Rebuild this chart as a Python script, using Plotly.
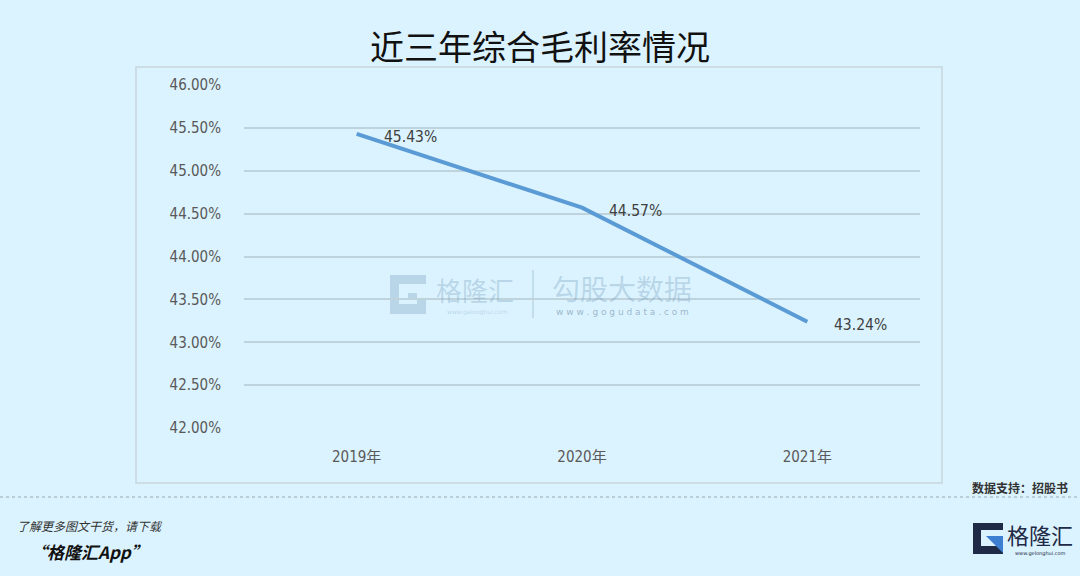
import plotly.graph_objects as go

years = ["2019年", "2020年", "2021年"]
margin_rate = [45.43, 44.57, 43.24]
label_text = ["45.43%", "44.57%", "43.24%"]
y_ticks = [42.0, 42.5, 43.0, 43.5, 44.0, 44.5, 45.0, 45.5, 46.0]
y_tick_text = ["42.00%", "42.50%", "43.00%", "43.50%", "44.00%", "44.50%", "45.00%", "45.50%", "46.00%"]

BG = "#DBF3FE"
W, H = 1080, 576
L, R, T, B = 244, 920, 85, 428  # plot area in pixels

def px(x):
    return (x - L) / (R - L)

def py(y):
    return (B - y) / (B - T)

NUM_FONT = "DejaVu Sans Condensed, Liberation Sans Narrow, Noto Sans CJK SC, sans-serif"
CJK = "Noto Sans CJK SC, sans-serif"

fig = go.Figure()
fig.add_trace(go.Scatter(
    x=years, y=margin_rate, mode="lines",
    line=dict(color="#5B9BD5", width=4),
    hoverinfo="skip",
))

shapes = []
annotations = []

# data labels
for xv, yv, t in zip(years, margin_rate, label_text):
    annotations.append(dict(text=t, x=xv, y=yv, xref="x", yref="y",
                            xanchor="left", yanchor="middle", xshift=25, yshift=-3,
                            font=dict(family=NUM_FONT, size=15.5, color="#404040")))

# outer chart border
shapes.append(dict(type="rect", xref="paper", yref="paper",
                   x0=px(136), x1=px(942), y0=py(67), y1=py(483),
                   line=dict(color="#C8D6DD", width=1.5), layer="below"))
# dotted separator
shapes.append(dict(type="line", xref="paper", yref="paper",
                   x0=px(0), x1=px(1080), y0=py(497), y1=py(497),
                   line=dict(color="#9AA6AC", width=1, dash="dot")))

# watermark
WM = "rgba(120,160,190,0.35)"
shapes.append(dict(type="path", xref="paper", yref="paper",
                   path=("M {a},{b} L {c},{b} L {c},{d} L {e},{d} L {e},{f} L {g},{f} L {g},{h} L {k},{h} "
                         "L {k},{j} L {c},{j} L {c},{i} L {a},{i} Z").format(
                       a=px(390), c=px(426), e=px(399), g=px(417), k=px(408),
                       b=py(275), d=py(284), f=py(304), h=py(293), j=py(300), i=py(314)),
                   fillcolor=WM, line=dict(width=0), layer="below"))
shapes.append(dict(type="line", xref="paper", yref="paper",
                   x0=px(533), x1=px(533), y0=py(270), y1=py(318),
                   line=dict(color=WM, width=1.5), layer="below"))
annotations += [
    dict(text="格隆汇", x=px(475), y=py(289), font=dict(family=CJK, size=26, color=WM)),
    dict(text="www.gelonghui.com", x=px(477), y=py(312), font=dict(family="DejaVu Sans", size=6, color=WM)),
    dict(text="勾股大数据", x=px(622), y=py(288), font=dict(family=CJK, size=28, color=WM)),
    dict(text="w w w . g o g u d a t a . c o m", x=px(622), y=py(312), font=dict(family="DejaVu Sans", size=9, color="rgba(100,130,160,0.55)")),
]

# title
annotations.append(dict(text="近三年综合毛利率情况", x=px(540), y=py(46),
                        font=dict(family=CJK, size=34, color="#111111")))
# source
annotations.append(dict(text="<b>数据支持：招股书</b>", x=px(1070), y=py(488), xanchor="right",
                        font=dict(family=CJK, size=12, color="#333333")))
# footer left
annotations.append(dict(text="<i>了解更多图文干货，请下载</i>", x=px(15), y=py(525), xanchor="left",
                        font=dict(family=CJK, size=12, color="#333333")))
annotations.append(dict(text="<b><i>“格隆汇App”</i></b>", x=px(28), y=py(551), xanchor="left",
                        font=dict(family=CJK, size=17, color="#111111")))

# footer logo
NAVY = "#1E2A46"
shapes.append(dict(type="path", xref="paper", yref="paper",
                   path=("M {a},{b} L {c},{b} L {c},{d} L {e},{d} L {e},{f} L {c},{f} "
                         "L {c},{g} L {a},{g} Z").format(
                       a=px(973), c=px(1003), e=px(981),
                       b=py(523), d=py(530), f=py(546), g=py(554)),
                   fillcolor=NAVY, line=dict(width=0)))
shapes.append(dict(type="path", xref="paper", yref="paper",
                   path="M {a},{b} L {c},{b} L {c},{d} Z".format(
                       a=px(986), c=px(1003), b=py(536), d=py(553)),
                   fillcolor="#3D7FD1", line=dict(width=0)))
annotations += [
    dict(text="格隆汇", x=px(1040), y=py(534), font=dict(family=CJK, size=22, color=NAVY)),
    dict(text="www.gelonghui.com", x=px(1040), y=py(553), font=dict(family="DejaVu Sans", size=5, color=NAVY)),
]

for a in annotations:
    a.setdefault("xref", "paper")
    a.setdefault("yref", "paper")
    a.setdefault("showarrow", False)
    a.setdefault("xanchor", "center")
    a.setdefault("yanchor", "middle")

fig.update_layout(
    width=W, height=H,
    margin=dict(l=L, r=W - R, t=T, b=H - B),
    paper_bgcolor=BG, plot_bgcolor=BG,
    showlegend=False,
    shapes=shapes, annotations=annotations,
    xaxis=dict(range=[-0.5, 2.5], showgrid=False, zeroline=False, showline=False,
               ticks="", ticklabelstandoff=18,
               tickfont=dict(family=NUM_FONT, size=15, color="#595959"), fixedrange=True),
    yaxis=dict(range=[42, 46], tickvals=y_ticks, ticktext=y_tick_text,
               showgrid=True, gridcolor="#BFD3DC", gridwidth=1.5, zeroline=False,
               showline=False, ticks="", ticklabelstandoff=22,
               tickfont=dict(family=NUM_FONT, size=15, color="#595959"), fixedrange=True),
)

fig.write_html("out.html")
